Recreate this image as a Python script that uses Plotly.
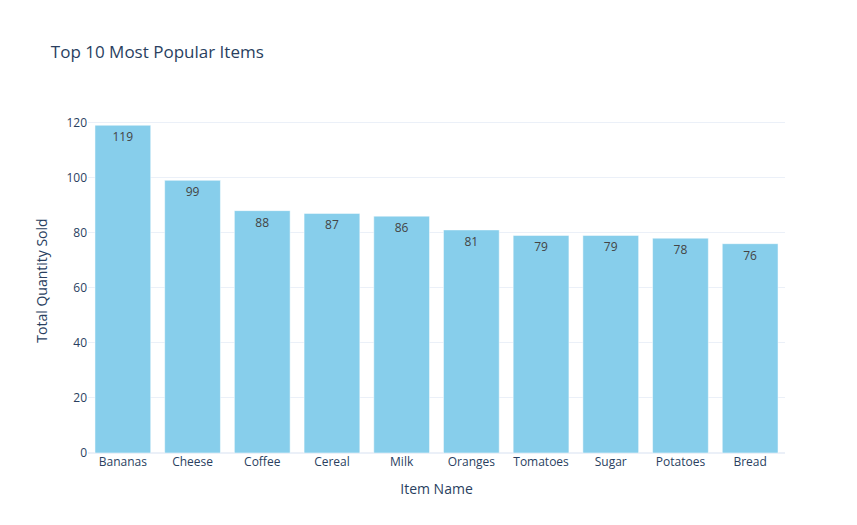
import plotly.graph_objects as go

items = ["Bananas", "Cheese", "Coffee", "Cereal", "Milk", "Oranges",
         "Tomatoes", "Sugar", "Potatoes", "Bread"]
quantities = [119, 99, 88, 87, 86, 81, 79, 79, 78, 76]

fig = go.Figure(go.Bar(
    x=items,
    y=quantities,
    text=quantities,
    textposition="auto",
    marker_color="skyblue",
))
fig.update_layout(
    template="plotly_white",
    title="Top 10 Most Popular Items",
    xaxis_title="Item Name",
    yaxis_title="Total Quantity Sold",
    width=857,
    height=525,
)
fig.write_html("out.html")
